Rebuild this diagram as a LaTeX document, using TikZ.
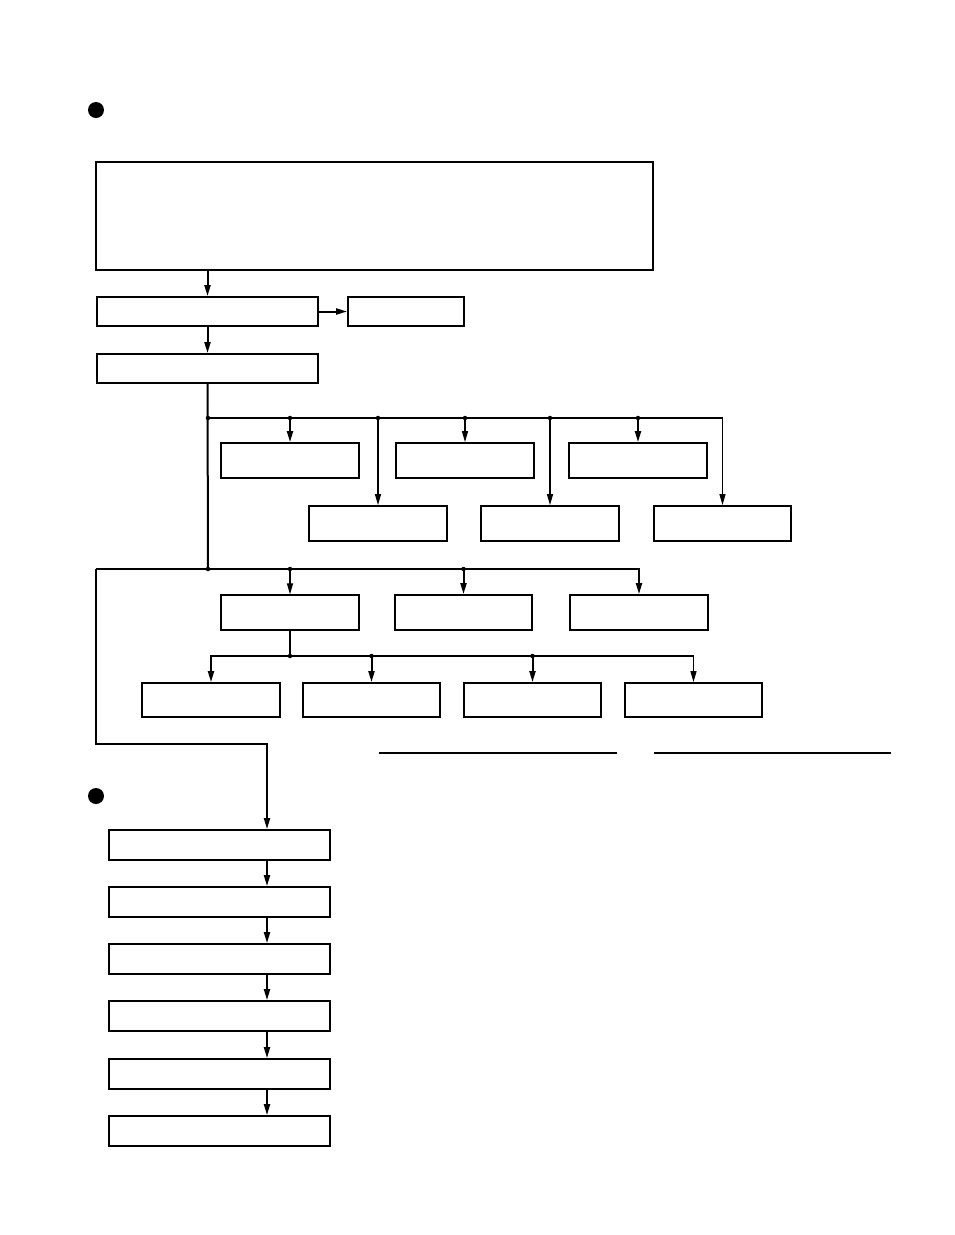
\documentclass[tikz,border=0pt]{standalone}
\usepackage{tikz}
\usetikzlibrary{arrows.meta,calc,positioning}
\tikzset{blk/.style={draw, rectangle, line width=1.8pt, inner sep=0pt}}
\tikzstyle{jdot}=[circle, fill, inner sep=0pt, minimum size=4.5pt]
\tikzstyle{fl}=[line width=2pt]
\tikzstyle{tl}=[line width=1.2pt]

\begin{document}
\begin{tikzpicture}[x=1pt, y=-1pt, >={Stealth[length=11pt,width=6pt,inset=0pt]}]
\useasboundingbox (0,0) rectangle (954,1235);
% bullets and rules
\fill (96,110) circle (8pt);
\fill (96,796) circle (8pt);
\draw[line width=2pt] (379,753) -- (617,753);
\draw[line width=2pt] (654,753) -- (891,753);

% upper chain
\node[blk, line width=2.3pt, minimum width=557pt, minimum height=108pt] (top) at (374.5,216) {};
\node[blk, minimum width=221pt, minimum height=29pt] (A) at (207.5,311.5) {};
\node[blk, minimum width=116pt, minimum height=29pt] (B) at (406,311.5) {};
\node[blk, minimum width=221pt, minimum height=29pt] (C) at (207.5,368.5) {};
\draw[fl,->] (top.south -| A.north) -- (A.north);
\draw[fl,->] (A.east) -- (B.west);
\draw[fl,->] (A.south) -- (C.north);

% first branch
\node[blk, minimum width=138pt, minimum height=35pt] (P1) at (290,460.5) {};
\node[blk, minimum width=138pt, minimum height=35pt] (P2) at (465,460.5) {};
\node[blk, minimum width=138pt, minimum height=35pt] (P3) at (638,460.5) {};
\node[blk, minimum width=138pt, minimum height=35pt] (Q1) at (378,523.5) {};
\node[blk, minimum width=138pt, minimum height=35pt] (Q2) at (550,523.5) {};
\node[blk, minimum width=137pt, minimum height=35pt] (Q3) at (722.5,523.5) {};
\coordinate (j1) at (208,418);
\coordinate (j2) at (208,569);
\draw[fl] (C.south) -- (j2);
\draw[tl,->] (j1) -| (Q3.north);
\draw[fl,->] (P1.north |- j1) -- (P1.north);
\draw[tl,->] (P2.north |- j1) -- (P2.north);
\draw[fl,->] (P3.north |- j1) -- (P3.north);
\draw[tl,->] (Q1.north |- j1) -- (Q1.north);
\draw[tl,->] (Q2.north |- j1) -- (Q2.north);
\foreach \n in {P1,P2,P3,Q1,Q2}
  \node[jdot] at (\n.north |- j1) {};
\node[jdot] at (j1) {};

% second branch
\node[blk, line width=1.3pt, minimum width=138pt, minimum height=35pt] (R1) at (290,612.5) {};
\node[blk, minimum width=137pt, minimum height=35pt] (R2) at (463.5,612.5) {};
\node[blk, minimum width=138pt, minimum height=35pt] (R3) at (639,612.5) {};
\coordinate (lc0) at (96,569);
\draw[fl,->] (lc0) -- (j2) -| (R3.north);
\draw[tl,->] (R1.north |- j2) -- (R1.north);
\draw[fl,->] (R2.north |- j2) -- (R2.north);
\node[jdot] at (j2) {};
\node[jdot] at (R1.north |- j2) {};
\node[jdot] at (R2.north |- j2) {};

% sub branch
\node[blk, minimum width=138pt, minimum height=34pt] (S1) at (211,700) {};
\node[blk, minimum width=137pt, minimum height=34pt] (S2) at (371.5,700) {};
\node[blk, minimum width=137pt, minimum height=34pt] (S3) at (532.5,700) {};
\node[blk, minimum width=137pt, minimum height=34pt] (S4) at (693.5,700) {};
\coordinate (j3) at (290,656);
\draw[tl] (R1.south) -- (j3);
\draw[fl,->] (j3) -| (S1.north);
\draw[fl] (j3) -- (S4.north |- j3);
\draw[tl,->] (S4.north |- j3) -- (S4.north);
\draw[fl,->] (S2.north |- j3) -- (S2.north);
\draw[fl,->] (S3.north |- j3) -- (S3.north);
\node[jdot] at (j3) {};
\node[jdot] at (S2.north |- j3) {};
\node[jdot] at (S3.north |- j3) {};

% lower chain
\coordinate (colx) at (267,0);
\coordinate (lc1) at (96,744);
\foreach \i/\y in {1/845,2/902,3/959,4/1016,5/1074,6/1131}
  \node[blk, minimum width=221pt, minimum height=30pt] (L\i) at (219.5,\y) {};
\draw[fl,->] (lc0) -- (lc1) -| (L1.north -| colx);
\foreach \i/\j in {1/2,2/3,3/4,4/5,5/6}
  \draw[fl,->] (L\i.south -| colx) -- (L\j.north -| colx);
\end{tikzpicture}
\end{document}
